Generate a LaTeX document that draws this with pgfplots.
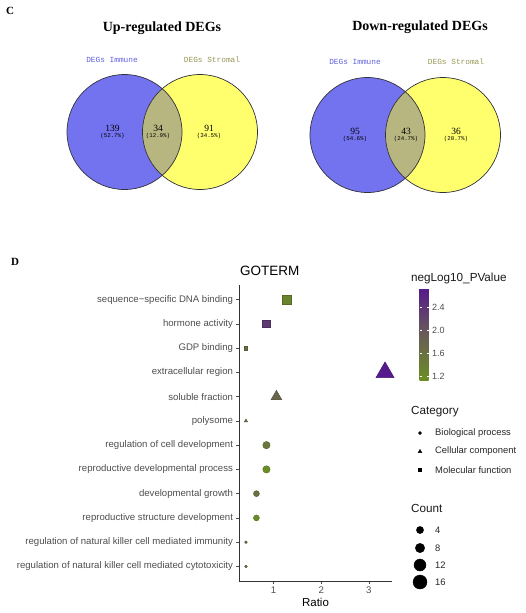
\documentclass[border=0pt]{standalone}
\usepackage{fontspec}
\setmainfont{Liberation Sans}
\newfontfamily\seriffont{Liberation Serif}
\newfontfamily\vennfont{Liberation Mono}
\usepackage{pgfplots}
\pgfplotsset{compat=1.18}
\usepackage{pgfplotstable}

\definecolor{vennblue}{RGB}{115,115,240}
\definecolor{vennyellow}{RGB}{255,255,110}
\definecolor{vennolive}{RGB}{184,182,128}
\definecolor{immunetxt}{RGB}{95,95,225}
\definecolor{stromaltxt}{RGB}{150,150,85}
\definecolor{gray30}{RGB}{77,77,77}
\definecolor{circline}{RGB}{50,50,60}

% GO term table: x = Ratio, y = term index, p = negLog10_PValue, s = marker size (pt)
\pgfplotstableread{
x y p s
1.27 1 1.30 4.7
0.85 2 2.35 3.8
0.42 3 1.60 1.7
}\molfun
\pgfplotstableread{
x y p s
3.34 4 2.73 10.5
1.06 5 1.80 6.3
0.42 6 1.70 1.9
}\celcomp
\pgfplotstableread{
x y p s
0.85 7 1.50 3.7
0.85 8 1.15 3.7
0.64 9 1.60 3.0
0.64 10 1.18 3.0
0.42 11 1.70 1.4
0.42 12 1.70 1.4
}\bioproc

\tikzset{
  vnum/.style={font=\seriffont\fontsize{9.5}{10}\selectfont},
  vpct/.style={font=\vennfont\fontsize{5.8}{6}\selectfont},
  vlab/.style={font=\vennfont\fontsize{7.8}{8}\selectfont},
  legtitle/.style={anchor=west, inner sep=0pt, font=\fontsize{11.7}{12}\selectfont, text=black!90},
  legtxt/.style={anchor=west, inner sep=0pt, font=\fontsize{9.4}{10}\selectfont, text=black!85},
}

\begin{document}
\begin{tikzpicture}
\path[use as bounding box] (0,0) rectangle (526pt,-613pt);

% ---------- overlay canvas (pixel units) ----------
\begin{axis}[at={(0,0)}, anchor=north west, scale only axis,
  width=526pt, height=613pt, xmin=0, xmax=526, ymin=0, ymax=613,
  y dir=reverse, hide axis, clip=false]

% panel letters
\node[font=\seriffont\bfseries\fontsize{11}{12}\selectfont] at (axis cs:10,11) {C};
\node[font=\seriffont\bfseries\fontsize{11}{12}\selectfont] at (axis cs:15,262) {D};

% titles
\node[font=\seriffont\bfseries\fontsize{14}{15}\selectfont] at (axis cs:162,28) {Up-regulated DEGs};
\node[font=\seriffont\bfseries\fontsize{14}{15}\selectfont] at (axis cs:420,27.5) {Down-regulated DEGs};

% Venn up
\fill[vennblue] (axis cs:124.5,132) circle[radius=57.5pt];
\fill[vennyellow] (axis cs:200,132) circle[radius=57.5pt];
\begin{scope}
\clip (axis cs:124.5,132) circle[radius=57.5pt];
\fill[vennolive] (axis cs:200,132) circle[radius=57.5pt];
\end{scope}
\draw[circline, line width=0.7pt] (axis cs:124.5,132) circle[radius=57.5pt];
\draw[circline, line width=0.7pt] (axis cs:200,132) circle[radius=57.5pt];

% Venn down
\fill[vennblue] (axis cs:367.5,135) circle[radius=57.5pt];
\fill[vennyellow] (axis cs:443,135) circle[radius=57.5pt];
\begin{scope}
\clip (axis cs:367.5,135) circle[radius=57.5pt];
\fill[vennolive] (axis cs:443,135) circle[radius=57.5pt];
\end{scope}
\draw[circline, line width=0.7pt] (axis cs:367.5,135) circle[radius=57.5pt];
\draw[circline, line width=0.7pt] (axis cs:443,135) circle[radius=57.5pt];

% Venn set labels
\node[vlab, text=immunetxt] at (axis cs:112,60) {DEGs Immune};
\node[vlab, text=stromaltxt] at (axis cs:212,60) {DEGs Stromal};
\node[vlab, text=immunetxt] at (axis cs:355,62) {DEGs Immune};
\node[vlab, text=stromaltxt] at (axis cs:456,62) {DEGs Stromal};

% Venn numbers
\node[vnum] at (axis cs:112.5,128.5) {139};
\node[vpct] at (axis cs:112.5,136) {(52.7\%)};
\node[vnum] at (axis cs:158,128.5) {34};
\node[vpct] at (axis cs:158,136) {(12.9\%)};
\node[vnum] at (axis cs:209,128.5) {91};
\node[vpct] at (axis cs:209,136) {(34.5\%)};
\node[vnum] at (axis cs:355,131.5) {95};
\node[vpct] at (axis cs:355,139) {(54.6\%)};
\node[vnum] at (axis cs:406,131.5) {43};
\node[vpct] at (axis cs:406,139) {(24.7\%)};
\node[vnum] at (axis cs:456,131.5) {36};
\node[vpct] at (axis cs:456,139) {(20.7\%)};

% GO title
\node[anchor=west, inner sep=0pt, font=\fontsize{13.5}{14}\selectfont] at (axis cs:240,271) {GOTERM};

% legend titles
\node[legtitle] at (axis cs:411,278) {negLog10\_PValue};
\node[legtitle] at (axis cs:411,412) {Category};
\node[legtitle] at (axis cs:411,508) {Count};

% Category legend
\addplot[only marks, mark=*, mark size=1.5pt, black] coordinates {(420,433)};
\addplot[only marks, mark=triangle*, mark size=2.1pt, black] coordinates {(420,451.5)};
\addplot[only marks, mark=square*, mark size=1.4pt, black] coordinates {(420,470)};
\node[legtxt] at (axis cs:435,433) {Biological process};
\node[legtxt] at (axis cs:435,451) {Cellular component};
\node[legtxt] at (axis cs:435,470) {Molecular function};

% Count legend
\addplot[only marks, mark=*, mark size=3.6pt, black] coordinates {(420,530)};
\addplot[only marks, mark=*, mark size=4.7pt, black] coordinates {(420,548)};
\addplot[only marks, mark=*, mark size=6.0pt, black] coordinates {(420,565)};
\addplot[only marks, mark=*, mark size=7.0pt, black] coordinates {(420,582)};
\node[legtxt] at (axis cs:435,530) {4};
\node[legtxt] at (axis cs:435,548) {8};
\node[legtxt] at (axis cs:435,565) {12};
\node[legtxt] at (axis cs:435,582) {16};
\end{axis}

% ---------- GO dot plot ----------
\begin{axis}[at={(239pt,-581pt)}, anchor=south west, scale only axis,
  width=153pt, height=296pt,
  xmin=0.274, xmax=3.486, ymin=0.4, ymax=12.6, y dir=reverse,
  axis x line*=bottom, axis y line*=left,
  axis line style={black!80, line width=0.6pt},
  xtick={1,2,3}, ytick={1,2,3,4,5,6,7,8,9,10,11,12},
  yticklabels={sequence−specific DNA binding, hormone activity, GDP binding,
    extracellular region, soluble fraction, polysome,
    regulation of cell development, reproductive developmental process,
    developmental growth, reproductive structure development,
    regulation of natural killer cell mediated immunity,
    regulation of natural killer cell mediated cytotoxicity},
  tick align=outside, major tick length=2.5pt,
  tick style={black!70, line width=0.5pt},
  ticklabel style={font=\fontsize{9.6}{10}\selectfont, text=gray30},
  /pgf/number format/assume math mode=true,
  xlabel={Ratio}, xlabel style={font=\fontsize{11.5}{12}\selectfont, yshift=3pt},
  colormap={go}{rgb255=(107,142,35) rgb255=(104,92,88) rgb255=(85,26,139)},
  point meta min=1.14, point meta max=2.73,
  colorbar,
  colorbar style={
    at={(parent axis.north east)}, anchor=north west,
    xshift=19pt, yshift=-3pt,
    width=9pt, height=92pt,
    axis line style={draw=none},
    ytick={1.2,1.6,2.0,2.4},
    ytick pos=both, yticklabel pos=right,
    tick align=inside, major tick length=2pt,
    tick style={white, line width=0.5pt},
    yticklabel style={font=\fontsize{9}{10}\selectfont, text=gray30,
      /pgf/number format/fixed, /pgf/number format/fixed zerofill,
      /pgf/number format/precision=1, /pgf/number format/assume math mode=true},
  },
  clip=false]
\addplot[scatter, only marks, mark=*, point meta=explicit,
  visualization depends on={\thisrow{s} \as \ms},
  scatter/@pre marker code/.append style={/tikz/mark size=\ms}]
  table[x=x, y=y, meta=p] {\bioproc};
\addplot[scatter, only marks, mark=triangle*, point meta=explicit,
  visualization depends on={\thisrow{s} \as \ms},
  scatter/@pre marker code/.append style={/tikz/mark size=\ms}]
  table[x=x, y=y, meta=p] {\celcomp};
\addplot[scatter, only marks, mark=square*, point meta=explicit,
  visualization depends on={\thisrow{s} \as \ms},
  scatter/@pre marker code/.append style={/tikz/mark size=\ms}]
  table[x=x, y=y, meta=p] {\molfun};
\end{axis}
\end{tikzpicture}
\end{document}
